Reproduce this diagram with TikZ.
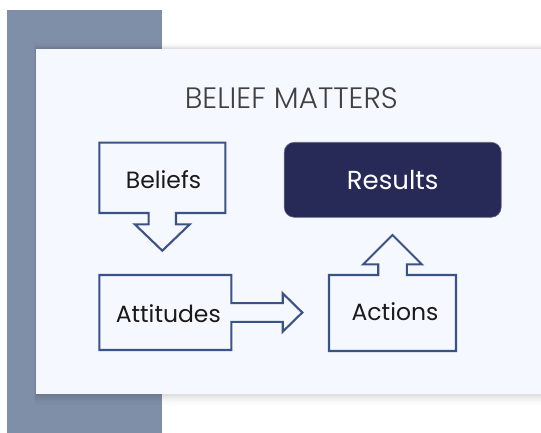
\documentclass[tikz,border=0pt]{standalone}
\usepackage{fontspec}
\setmainfont{Poppins}[UprightFont=* Light]
\newfontfamily\labelfont{Poppins}
\usetikzlibrary{calc}
\definecolor{barblue}{HTML}{7F8FA7}
\definecolor{panelbg}{HTML}{F5F8FE}
\definecolor{edgeblue}{HTML}{3B5286}
\definecolor{navy}{HTML}{272A56}
\definecolor{titlegray}{HTML}{404040}
\definecolor{labelgray}{HTML}{1A1A1A}
\tikzset{
  calloutbox/.style={inner sep=0pt, outer sep=0pt, text=labelgray, font=\labelfont\fontsize{23.5}{23.5}\selectfont},
  calloutline/.style={draw=edgeblue, line width=2.1pt, line join=miter, fill=panelbg},
  resultbox/.style={fill=navy, draw=navy!70!white, line width=0.6pt, rounded corners=10pt,
    inner sep=0pt, outer sep=0pt, text=white, font=\labelfont\fontsize{26}{26}\selectfont},
  titletext/.style={text=titlegray, font=\fontsize{29.5}{29.5}\selectfont, inner sep=0pt}
}
\begin{document}
\begin{tikzpicture}[x=1pt,y=1pt]
  \useasboundingbox (0,0) rectangle (541,-433);
  \fill[white] (0,0) rectangle (541,-433);
  % side bar
  \fill[barblue] (7,-10) rectangle (162,-433);
  % soft shadow round the panel
  \foreach \d/\o in {8/0.015,6/0.02,4.5/0.025,3/0.03,1.5/0.035}{
    \fill[black, opacity=\o] (36-\d*0.2,-49+\d*0.7) rectangle (541,-394-\d*1.4);
  }
  % panel
  \fill[panelbg] (36,-49) rectangle (541,-394);

  \node[titletext] (title) at (291.3,-98.5) {BELIEF MATTERS};

  % Beliefs, with a down arrow
  \node[calloutbox, minimum width=126pt, minimum height=70.3pt] (beliefs) at (162.3,-177.85) {};
  \draw[calloutline] (beliefs.north west) -- (beliefs.north east) -- (beliefs.south east)
    -- ($(beliefs.south)+(13.7,0)$) -- ++(0,-11.3) -- ++(13.8,0)
    -- ($(beliefs.south)+(0,-37.7)$) -- ($(beliefs.south)+(-27.5,-11.3)$)
    -- ++(13.8,0) -- ++(0,11.3) -- (beliefs.south west) -- cycle;
  \node[calloutbox] (beliefsT) at ($(beliefs.center)+(1.2,-1.5)$) {Beliefs};

  % Attitudes, with a right arrow
  \node[calloutbox, minimum width=132pt, minimum height=75pt] (attitudes) at (165.3,-312.5) {};
  \draw[calloutline] (attitudes.north west) -- (attitudes.north east)
    -- ($(attitudes.east)+(0,9.35)$) -- ++(51.4,0) -- ++(0,9.85)
    -- ($(attitudes.east)+(71,0)$) -- ($(attitudes.east)+(51.4,-19.2)$)
    -- ++(0,9.85) -- ++(-51.4,0) -- (attitudes.south east) -- (attitudes.south west) -- cycle;
  \node[calloutbox] (attitudesT) at ($(attitudes.center)+(3,-1)$) {Attitudes};

  % Actions, with an up arrow
  \node[calloutbox, minimum width=127pt, minimum height=76pt] (actions) at (392.5,-313) {};
  \draw[calloutline] (actions.south west) -- (actions.south east) -- (actions.north east)
    -- ($(actions.north)+(14.3,0)$) -- ++(0,10.7) -- ++(15,0)
    -- ($(actions.north)+(0,40)$) -- ($(actions.north)+(-29.3,10.7)$)
    -- ++(15,0) -- ++(0,-10.7) -- (actions.north west) -- cycle;
  \node[calloutbox] (actionsT) at ($(actions.center)+(2.5,1)$) {Actions};

  % Results
  \node[resultbox, minimum width=217pt, minimum height=75pt] (results) at (392.7,-179.8) {Results};
\end{tikzpicture}
\end{document}
